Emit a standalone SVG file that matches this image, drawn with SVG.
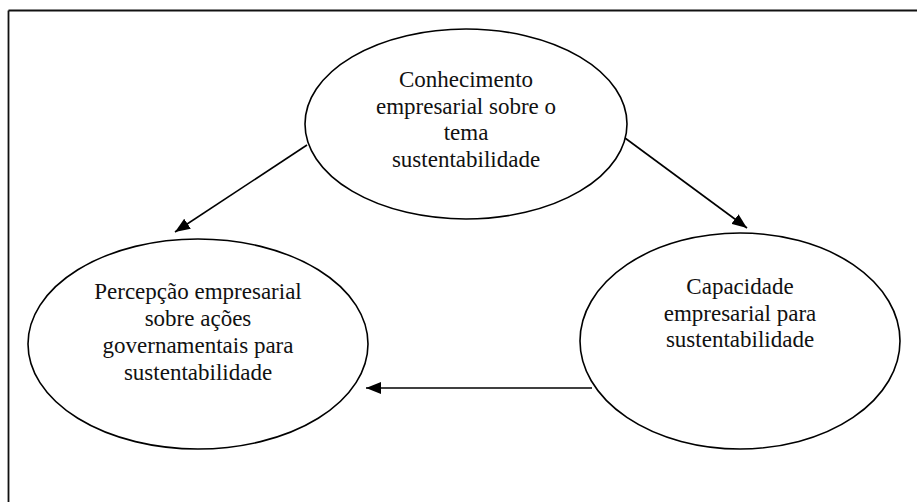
<svg xmlns="http://www.w3.org/2000/svg" width="917" height="502" viewBox="0 0 917 502">
<style>
.node ellipse{fill:#fff;stroke:#000;stroke-width:1.6}
.edge{stroke:#000;stroke-width:1.6;fill:none;marker-end:url(#ah)}
.frame{stroke:#111;stroke-width:1.8}
</style>
<defs>
<marker id="ah" markerUnits="userSpaceOnUse" markerWidth="16" markerHeight="12" refX="15" refY="6" orient="auto">
<path d="M0,0 L15,6 L0,12 Z" fill="#000"/>
</marker>
</defs>
<rect width="917" height="502" fill="#fff"/>
<g id="frame">
<line class="frame" x1="8.5" y1="10.5" x2="917" y2="10.5"/>
<line class="frame" x1="8.5" y1="10.5" x2="8.5" y2="502"/>
</g>
<g id="connectors">
<line class="edge" x1="307" y1="145" x2="175" y2="232"/>
<line class="edge" x1="625" y1="138" x2="747" y2="228"/>
<line class="edge" x1="592" y1="388" x2="366" y2="388"/>
</g>
<g id="n1" class="node">
<ellipse cx="466" cy="124" rx="161" ry="95"/>
<g font-family="Liberation Serif, Times New Roman, serif" font-size="23" fill="#111" text-anchor="middle">
<text x="466" y="87">Conhecimento</text>
<text x="466" y="114">empresarial sobre o</text>
<text x="466" y="140">tema</text>
<text x="466" y="167">sustentabilidade</text>
</g>
</g>
<g id="n2" class="node">
<ellipse cx="198" cy="344" rx="170" ry="105"/>
<g font-family="Liberation Serif, Times New Roman, serif" font-size="23" fill="#111" text-anchor="middle">
<text x="198" y="299">Percepção empresarial</text>
<text x="198" y="326">sobre ações</text>
<text x="198" y="353">governamentais para</text>
<text x="198" y="380">sustentabilidade</text>
</g>
</g>
<g id="n3" class="node">
<ellipse cx="740" cy="341" rx="160" ry="108"/>
<g font-family="Liberation Serif, Times New Roman, serif" font-size="23" fill="#111" text-anchor="middle">
<text x="740" y="294">Capacidade</text>
<text x="740" y="321">empresarial para</text>
<text x="740" y="347">sustentabilidade</text>
</g>
</g>
</svg>
